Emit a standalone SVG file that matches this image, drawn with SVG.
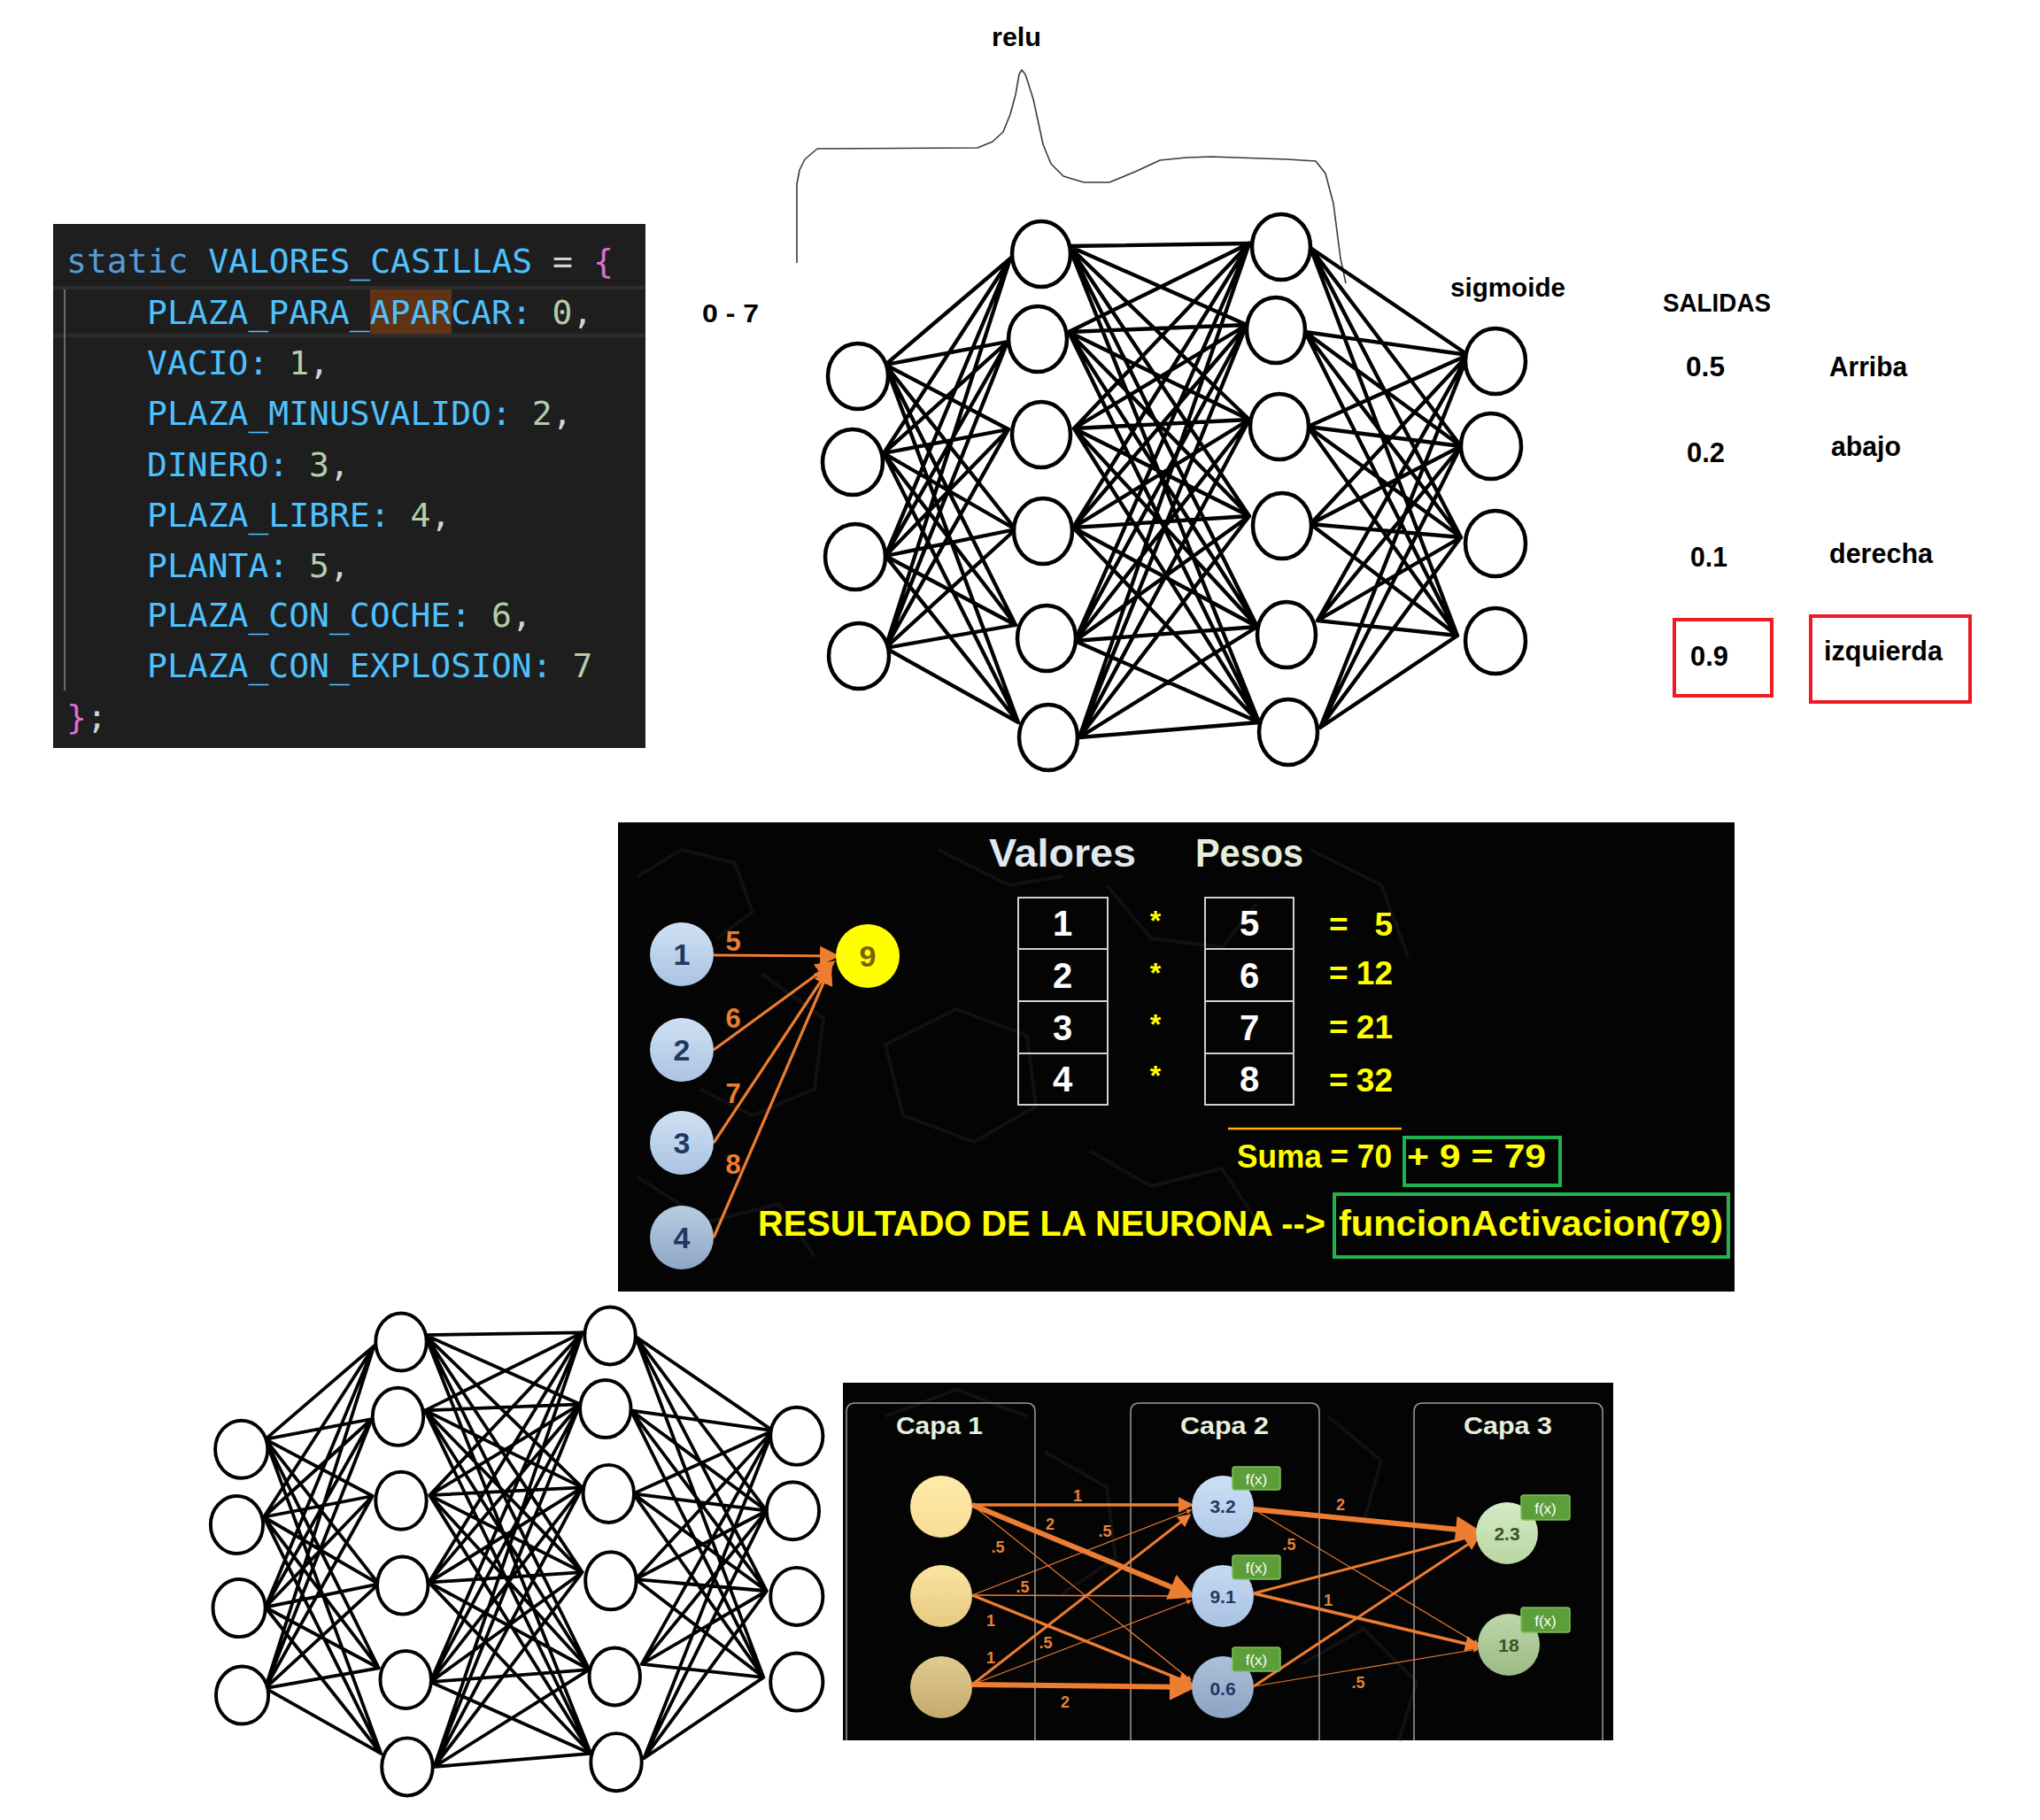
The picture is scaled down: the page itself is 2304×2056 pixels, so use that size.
<svg xmlns="http://www.w3.org/2000/svg" width="2304" height="2056" viewBox="0 0 2304 2056">
<style>
.nn{fill:#fff;stroke:#000;stroke-width:4.5}
.ed{fill:none;stroke:#000;stroke-width:4.3;stroke-linecap:round}
.code{font-family:"DejaVu Sans Mono","Liberation Mono",monospace;font-size:38px}
.b{font-family:"Liberation Sans",Arial,sans-serif;font-weight:bold}
.blk{fill:#000}
.id{fill:#4fc1ff}.pu{fill:#d4d4d4}.nu{fill:#b5cea8}.br{fill:#da70d6}.kw{fill:#569cd6}
.yl{fill:#ffff00}
.ow{fill:#e8823a;font-size:18px;text-anchor:middle}
.fx{fill:#5c9e3a;stroke:#7fc05a;stroke-width:1.5}
.fxt{fill:#fff;font-family:"Liberation Sans",Arial,sans-serif;font-size:17px;text-anchor:middle}
.frame{fill:none;stroke:#9a9a9a;stroke-width:1.5}
.hex{fill:none;stroke:#111;stroke-width:4}
.oa{stroke:#ed7d31;fill:none}
</style>
<defs>
<linearGradient id="gBlue" x1="0" y1="0" x2="0" y2="1"><stop offset="0" stop-color="#cfe0f3"/><stop offset="1" stop-color="#aac4e2"/></linearGradient>
<linearGradient id="gBlue4" x1="0" y1="0" x2="0" y2="1"><stop offset="0" stop-color="#b9cce2"/><stop offset="1" stop-color="#8ea7c6"/></linearGradient>
<linearGradient id="gY1" x1="0" y1="0" x2="0" y2="1"><stop offset="0" stop-color="#ffeaa8"/><stop offset="1" stop-color="#f8dd95"/></linearGradient>
<linearGradient id="gY2" x1="0" y1="0" x2="0" y2="1"><stop offset="0" stop-color="#fbe4a2"/><stop offset="1" stop-color="#e6c981"/></linearGradient>
<linearGradient id="gY3" x1="0" y1="0" x2="0" y2="1"><stop offset="0" stop-color="#e2cb90"/><stop offset="1" stop-color="#c6aa6e"/></linearGradient>
<linearGradient id="gB1" x1="0" y1="0" x2="0" y2="1"><stop offset="0" stop-color="#cde0f4"/><stop offset="1" stop-color="#b0c9e8"/></linearGradient>
<linearGradient id="gB2" x1="0" y1="0" x2="0" y2="1"><stop offset="0" stop-color="#c6daf1"/><stop offset="1" stop-color="#a9c2e3"/></linearGradient>
<linearGradient id="gB3" x1="0" y1="0" x2="0" y2="1"><stop offset="0" stop-color="#acc0d9"/><stop offset="1" stop-color="#8ca4c2"/></linearGradient>
<linearGradient id="gG1" x1="0" y1="0" x2="0" y2="1"><stop offset="0" stop-color="#d6eac6"/><stop offset="1" stop-color="#b8d6a2"/></linearGradient>
<linearGradient id="gG2" x1="0" y1="0" x2="0" y2="1"><stop offset="0" stop-color="#bcd7a8"/><stop offset="1" stop-color="#9bbb84"/></linearGradient>
<marker id="ahm" viewBox="0 0 10 10" refX="8" refY="5" markerWidth="7" markerHeight="7" orient="auto" markerUnits="strokeWidth"><path d="M0 0L10 5L0 10z" fill="#ed7d31"/></marker>
<marker id="ahb" viewBox="0 0 10 10" refX="8" refY="5" markerWidth="6.5" markerHeight="5" orient="auto" markerUnits="strokeWidth"><path d="M0 0L10 5L0 10z" fill="#ed7d31"/></marker>
</defs>
<rect width="2304" height="2056" fill="#fff"/>

<!-- code block -->
<g id="code-block">
<rect x="60" y="253" width="669" height="592" fill="#1e1e1e"/>
<rect x="418" y="325" width="92" height="55" fill="#613315"/>
<line x1="60" y1="325" x2="729" y2="325" stroke="#2c2c2c" stroke-width="4"/>
<line x1="60" y1="379" x2="729" y2="379" stroke="#2c2c2c" stroke-width="4"/>
<line x1="73" y1="327" x2="73" y2="780" stroke="#6a6a6a" stroke-width="2"/>
<text class="code" xml:space="preserve"><tspan x="75" y="308"><tspan class="kw">static</tspan> <tspan class="id">VALORES_CASILLAS</tspan> <tspan class="pu">=</tspan> <tspan class="br">{</tspan></tspan><tspan x="166" y="366"><tspan class="id">PLAZA_PARA_APARCAR:</tspan> <tspan class="nu">0</tspan><tspan class="pu">,</tspan></tspan><tspan x="166" y="423"><tspan class="id">VACIO:</tspan> <tspan class="nu">1</tspan><tspan class="pu">,</tspan></tspan><tspan x="166" y="480"><tspan class="id">PLAZA_MINUSVALIDO:</tspan> <tspan class="nu">2</tspan><tspan class="pu">,</tspan></tspan><tspan x="166" y="538"><tspan class="id">DINERO:</tspan> <tspan class="nu">3</tspan><tspan class="pu">,</tspan></tspan><tspan x="166" y="595"><tspan class="id">PLAZA_LIBRE:</tspan> <tspan class="nu">4</tspan><tspan class="pu">,</tspan></tspan><tspan x="166" y="652"><tspan class="id">PLANTA:</tspan> <tspan class="nu">5</tspan><tspan class="pu">,</tspan></tspan><tspan x="166" y="708"><tspan class="id">PLAZA_CON_COCHE:</tspan> <tspan class="nu">6</tspan><tspan class="pu">,</tspan></tspan><tspan x="166" y="765"><tspan class="id">PLAZA_CON_EXPLOSION:</tspan> <tspan class="nu">7</tspan></tspan><tspan x="75" y="823"><tspan class="br">}</tspan><tspan class="pu">;</tspan></tspan></text>
</g>

<!-- top annotations -->
<g id="annotations">
<path d="M900 297L900 208L903 192L909 180L923 168L1104 167L1121 160L1133 149L1141 129L1147 107L1151 84L1154 79L1158 84L1161 93L1167 112L1172 135L1178 163L1187 185L1201 199L1224 206L1253 206L1282 194L1310 181L1340 178L1368 177L1454 180L1486 182L1497 196L1506 230L1511 269L1514 292L1520 320" fill="none" stroke="#3a3a3a" stroke-width="1.6" stroke-linejoin="round"/>
<text class="b blk" x="1120" y="52" font-size="30" textLength="56" lengthAdjust="spacingAndGlyphs">relu</text>
<text class="b blk" x="1638" y="335" font-size="30" textLength="130" lengthAdjust="spacingAndGlyphs">sigmoide</text>
<text class="b blk" x="793" y="364" font-size="30" textLength="64" lengthAdjust="spacingAndGlyphs">0 - 7</text>
<text class="b blk" x="1878" y="352" font-size="30" textLength="122" lengthAdjust="spacingAndGlyphs">SALIDAS</text>
<text class="b blk" x="1904" y="425" font-size="31" textLength="44" lengthAdjust="spacingAndGlyphs">0.5</text>
<text class="b blk" x="2066" y="425" font-size="31" textLength="88" lengthAdjust="spacingAndGlyphs">Arriba</text>
<text class="b blk" x="1905" y="522" font-size="31" textLength="43" lengthAdjust="spacingAndGlyphs">0.2</text>
<text class="b blk" x="2068" y="515" font-size="31" textLength="79" lengthAdjust="spacingAndGlyphs">abajo</text>
<text class="b blk" x="1909" y="640" font-size="31" textLength="42" lengthAdjust="spacingAndGlyphs">0.1</text>
<text class="b blk" x="2066" y="636" font-size="31" textLength="117" lengthAdjust="spacingAndGlyphs">derecha</text>
<text class="b blk" x="1909" y="752" font-size="31" textLength="43" lengthAdjust="spacingAndGlyphs">0.9</text>
<text class="b blk" x="2060" y="746" font-size="31" textLength="134" lengthAdjust="spacingAndGlyphs">izquierda</text>
<rect x="1891" y="700" width="110" height="86" fill="none" stroke="#ed1c24" stroke-width="4"/>
<rect x="2045" y="696" width="180" height="97" fill="none" stroke="#ed1c24" stroke-width="4"/>
</g>

<!-- top network -->
<g id="net1">
<g id="net1-connectors" class="ed">
<path d="M1000 412L1141 292M1000 412L1138 386M1000 412L1139 485M1000 412L1147 598M1000 412L1147 706M1000 412L1150 816M998 512L1141 292M998 512L1138 386M998 512L1139 485M998 512L1147 598M998 512L1147 706M998 512L1150 816M1000 628L1141 292M1000 628L1138 386M1000 628L1139 485M1000 628L1147 598M1000 628L1147 706M1000 628L1150 816M1000 732L1141 292M1000 732L1138 386M1000 732L1139 485M1000 732L1147 598M1000 732L1147 706M1000 732L1150 816"/>
<path d="M1207 278L1411 275M1207 278L1408 367M1207 278L1411 474M1207 278L1411 583M1207 278L1420 708M1207 278L1422 816M1207 375L1411 275M1207 375L1408 367M1207 375L1411 474M1207 375L1411 583M1207 375L1420 708M1207 375L1422 816M1213 484L1411 275M1213 484L1408 367M1213 484L1411 474M1213 484L1411 583M1213 484L1420 708M1213 484L1422 816M1212 596L1411 275M1212 596L1408 367M1212 596L1411 474M1212 596L1411 583M1212 596L1420 708M1212 596L1422 816M1214 724L1411 275M1214 724L1408 367M1214 724L1411 474M1214 724L1411 583M1214 724L1420 708M1214 724L1422 816M1219 833L1411 275M1219 833L1408 367M1219 833L1411 474M1219 833L1411 583M1219 833L1420 708M1219 833L1422 816"/>
<path d="M1480 280L1658 401M1480 280L1650 504M1480 280L1650 607M1480 280L1646 718M1474 375L1658 401M1474 375L1650 504M1474 375L1650 607M1474 375L1646 718M1477 482L1658 401M1477 482L1650 504M1477 482L1650 607M1477 482L1646 718M1480 592L1658 401M1480 592L1650 504M1480 592L1650 607M1480 592L1646 718M1488 701L1658 401M1488 701L1650 504M1488 701L1650 607M1488 701L1646 718M1491 822L1658 401M1491 822L1650 504M1491 822L1650 607M1491 822L1646 718"/>
</g>
<g id="n1-a1"><ellipse class="nn" cx="969" cy="425" rx="34" ry="37"/></g>
<g id="n1-a2"><ellipse class="nn" cx="963" cy="522" rx="34" ry="37"/></g>
<g id="n1-a3"><ellipse class="nn" cx="966" cy="629" rx="34" ry="37"/></g>
<g id="n1-a4"><ellipse class="nn" cx="970" cy="741" rx="34" ry="37"/></g>
<g id="n1-b1"><ellipse class="nn" cx="1176" cy="287" rx="33" ry="37"/></g>
<g id="n1-b2"><ellipse class="nn" cx="1172" cy="383" rx="33" ry="37"/></g>
<g id="n1-b3"><ellipse class="nn" cx="1176" cy="491" rx="33" ry="37"/></g>
<g id="n1-b4"><ellipse class="nn" cx="1178" cy="600" rx="33" ry="37"/></g>
<g id="n1-b5"><ellipse class="nn" cx="1182" cy="721" rx="33" ry="37"/></g>
<g id="n1-b6"><ellipse class="nn" cx="1184" cy="833" rx="33" ry="37"/></g>
<g id="n1-c1"><ellipse class="nn" cx="1447" cy="279" rx="33" ry="37"/></g>
<g id="n1-c2"><ellipse class="nn" cx="1441" cy="373" rx="33" ry="37"/></g>
<g id="n1-c3"><ellipse class="nn" cx="1445" cy="482" rx="33" ry="37"/></g>
<g id="n1-c4"><ellipse class="nn" cx="1448" cy="594" rx="33" ry="37"/></g>
<g id="n1-c5"><ellipse class="nn" cx="1453" cy="717" rx="33" ry="37"/></g>
<g id="n1-c6"><ellipse class="nn" cx="1455" cy="827" rx="33" ry="37"/></g>
<g id="n1-d1"><ellipse class="nn" cx="1689" cy="408" rx="34" ry="37"/></g>
<g id="n1-d2"><ellipse class="nn" cx="1684" cy="504" rx="34" ry="37"/></g>
<g id="n1-d3"><ellipse class="nn" cx="1689" cy="614" rx="34" ry="37"/></g>
<g id="n1-d4"><ellipse class="nn" cx="1689" cy="724" rx="34" ry="37"/></g>
</g>

<!-- middle panel -->
<g id="neuron-panel">
<rect x="698" y="929" width="1261" height="530" fill="#040404"/>
<g class="hex">
<path d="M720 990L770 960L830 975L850 1030L810 1060"/>
<path d="M860 1100L930 1150L920 1230L850 1260L790 1230"/>
<path d="M1000 1180L1080 1140L1160 1170L1170 1250L1100 1290L1020 1260Z"/>
<path d="M1060 960L1140 1000L1200 990"/>
<path d="M1250 1000L1300 1060L1380 1070L1420 1020"/>
<path d="M720 1330L800 1380L880 1360L920 1420"/>
<path d="M1230 1300L1300 1340L1380 1320L1420 1380"/>
<path d="M1480 960L1560 1000L1590 1080"/>
</g>
<g id="neuron-connectors">
<line class="oa" x1="806" y1="1079" x2="944" y2="1080" stroke-width="3.2" marker-end="url(#ahm)"/>
<line class="oa" x1="806" y1="1186" x2="940" y2="1088" stroke-width="3.2" marker-end="url(#ahm)"/>
<line class="oa" x1="806" y1="1291" x2="938" y2="1092" stroke-width="3.2" marker-end="url(#ahm)"/>
<line class="oa" x1="806" y1="1398" x2="937" y2="1094" stroke-width="3.2" marker-end="url(#ahm)"/>
</g>
<g class="b" font-size="31" fill="#ed7d31" text-anchor="middle">
<text x="828" y="1074">5</text><text x="828" y="1161">6</text><text x="828" y="1246">7</text><text x="828" y="1326">8</text>
</g>
<g id="in1"><circle cx="770" cy="1078" r="36" fill="url(#gBlue)"/><text class="b" x="770" y="1090" font-size="34" fill="#1f3864" text-anchor="middle">1</text></g>
<g id="in2"><circle cx="770" cy="1186" r="36" fill="url(#gBlue)"/><text class="b" x="770" y="1198" font-size="34" fill="#1f3864" text-anchor="middle">2</text></g>
<g id="in3"><circle cx="770" cy="1291" r="36" fill="url(#gBlue)"/><text class="b" x="770" y="1303" font-size="34" fill="#1f3864" text-anchor="middle">3</text></g>
<g id="in4"><circle cx="770" cy="1398" r="36" fill="url(#gBlue4)"/><text class="b" x="770" y="1410" font-size="34" fill="#1f3864" text-anchor="middle">4</text></g>
<g id="out9"><circle cx="980" cy="1080" r="36" fill="#ffff00"/><text class="b" x="980" y="1092" font-size="34" fill="#7f6000" text-anchor="middle">9</text></g>
<text class="b" x="1117" y="979" font-size="44" fill="#dfe7ef" textLength="166" lengthAdjust="spacingAndGlyphs">Valores</text>
<text class="b" x="1350" y="979" font-size="44" fill="#e4eedb" textLength="122" lengthAdjust="spacingAndGlyphs">Pesos</text>
<g id="tbl-valores" fill="none" stroke="#d0d0d0" stroke-width="2">
<rect x="1150" y="1014" width="101" height="234"/><path d="M1150 1072H1251M1150 1131H1251M1150 1190H1251"/>
</g>
<g id="tbl-pesos" fill="none" stroke="#d0d0d0" stroke-width="2">
<rect x="1361" y="1014" width="100" height="234"/><path d="M1361 1072H1461M1361 1131H1461M1361 1190H1461"/>
</g>
<g class="b" font-size="40" fill="#fff" text-anchor="middle">
<text x="1200" y="1057">1</text><text x="1200" y="1116">2</text><text x="1200" y="1175">3</text><text x="1200" y="1233">4</text>
<text x="1411" y="1057">5</text><text x="1411" y="1116">6</text><text x="1411" y="1175">7</text><text x="1411" y="1233">8</text>
</g>
<g class="b yl" font-size="32" text-anchor="middle">
<text x="1305" y="1051">*</text><text x="1305" y="1110">*</text><text x="1305" y="1168">*</text><text x="1305" y="1226">*</text>
</g>
<g class="b yl" font-size="37">
<text x="1501" y="1057">=</text><text x="1573" y="1057" text-anchor="end">5</text>
<text x="1501" y="1112">=</text><text x="1573" y="1112" text-anchor="end">12</text>
<text x="1501" y="1173">=</text><text x="1573" y="1173" text-anchor="end">21</text>
<text x="1501" y="1233">=</text><text x="1573" y="1233" text-anchor="end">32</text>
</g>
<line x1="1387" y1="1275" x2="1583" y2="1275" stroke="#ffb400" stroke-width="2.5"/>
<text class="b yl" x="1397" y="1319" font-size="37" textLength="175" lengthAdjust="spacingAndGlyphs">Suma = 70</text>
<text class="b yl" x="1589" y="1319" font-size="37" textLength="157" lengthAdjust="spacingAndGlyphs">+ 9 = 79</text>
<rect x="1586" y="1285" width="176" height="54" fill="none" stroke="#22b14c" stroke-width="4"/>
<text class="b yl" x="856" y="1396" font-size="40" textLength="641" lengthAdjust="spacingAndGlyphs">RESULTADO DE LA NEURONA --&gt;</text>
<text class="b yl" x="1512" y="1396" font-size="40" textLength="434" lengthAdjust="spacingAndGlyphs">funcionActivacion(79)</text>
<rect x="1507" y="1349" width="445" height="71" fill="none" stroke="#22b14c" stroke-width="4"/>
</g>

<!-- bottom-left network -->
<g id="net2" transform="matrix(0.871 0 0 0.879 -571.3 1263.7)">
<g id="net2-connectors" class="ed">
<path d="M1000 412L1141 292M1000 412L1138 386M1000 412L1139 485M1000 412L1147 598M1000 412L1147 706M1000 412L1150 816M998 512L1141 292M998 512L1138 386M998 512L1139 485M998 512L1147 598M998 512L1147 706M998 512L1150 816M1000 628L1141 292M1000 628L1138 386M1000 628L1139 485M1000 628L1147 598M1000 628L1147 706M1000 628L1150 816M1000 732L1141 292M1000 732L1138 386M1000 732L1139 485M1000 732L1147 598M1000 732L1147 706M1000 732L1150 816"/>
<path d="M1207 278L1411 275M1207 278L1408 367M1207 278L1411 474M1207 278L1411 583M1207 278L1420 708M1207 278L1422 816M1207 375L1411 275M1207 375L1408 367M1207 375L1411 474M1207 375L1411 583M1207 375L1420 708M1207 375L1422 816M1213 484L1411 275M1213 484L1408 367M1213 484L1411 474M1213 484L1411 583M1213 484L1420 708M1213 484L1422 816M1212 596L1411 275M1212 596L1408 367M1212 596L1411 474M1212 596L1411 583M1212 596L1420 708M1212 596L1422 816M1214 724L1411 275M1214 724L1408 367M1214 724L1411 474M1214 724L1411 583M1214 724L1420 708M1214 724L1422 816M1219 833L1411 275M1219 833L1408 367M1219 833L1411 474M1219 833L1411 583M1219 833L1420 708M1219 833L1422 816"/>
<path d="M1480 280L1658 401M1480 280L1650 504M1480 280L1650 607M1480 280L1646 718M1474 375L1658 401M1474 375L1650 504M1474 375L1650 607M1474 375L1646 718M1477 482L1658 401M1477 482L1650 504M1477 482L1650 607M1477 482L1646 718M1480 592L1658 401M1480 592L1650 504M1480 592L1650 607M1480 592L1646 718M1488 701L1658 401M1488 701L1650 504M1488 701L1650 607M1488 701L1646 718M1491 822L1658 401M1491 822L1650 504M1491 822L1650 607M1491 822L1646 718"/>
</g>
<g id="n2-a1"><ellipse class="nn" cx="969" cy="425" rx="34" ry="37"/></g>
<g id="n2-a2"><ellipse class="nn" cx="963" cy="522" rx="34" ry="37"/></g>
<g id="n2-a3"><ellipse class="nn" cx="966" cy="629" rx="34" ry="37"/></g>
<g id="n2-a4"><ellipse class="nn" cx="970" cy="741" rx="34" ry="37"/></g>
<g id="n2-b1"><ellipse class="nn" cx="1176" cy="287" rx="33" ry="37"/></g>
<g id="n2-b2"><ellipse class="nn" cx="1172" cy="383" rx="33" ry="37"/></g>
<g id="n2-b3"><ellipse class="nn" cx="1176" cy="491" rx="33" ry="37"/></g>
<g id="n2-b4"><ellipse class="nn" cx="1178" cy="600" rx="33" ry="37"/></g>
<g id="n2-b5"><ellipse class="nn" cx="1182" cy="721" rx="33" ry="37"/></g>
<g id="n2-b6"><ellipse class="nn" cx="1184" cy="833" rx="33" ry="37"/></g>
<g id="n2-c1"><ellipse class="nn" cx="1447" cy="279" rx="33" ry="37"/></g>
<g id="n2-c2"><ellipse class="nn" cx="1441" cy="373" rx="33" ry="37"/></g>
<g id="n2-c3"><ellipse class="nn" cx="1445" cy="482" rx="33" ry="37"/></g>
<g id="n2-c4"><ellipse class="nn" cx="1448" cy="594" rx="33" ry="37"/></g>
<g id="n2-c5"><ellipse class="nn" cx="1453" cy="717" rx="33" ry="37"/></g>
<g id="n2-c6"><ellipse class="nn" cx="1455" cy="827" rx="33" ry="37"/></g>
<g id="n2-d1"><ellipse class="nn" cx="1689" cy="408" rx="34" ry="37"/></g>
<g id="n2-d2"><ellipse class="nn" cx="1684" cy="504" rx="34" ry="37"/></g>
<g id="n2-d3"><ellipse class="nn" cx="1689" cy="614" rx="34" ry="37"/></g>
<g id="n2-d4"><ellipse class="nn" cx="1689" cy="724" rx="34" ry="37"/></g>
</g>

<!-- bottom-right panel -->
<g id="layers-panel">
<rect x="952" y="1562" width="870" height="404" fill="#040404"/>
<g class="hex">
<path d="M1000 1600L1080 1570L1160 1600"/>
<path d="M1180 1640L1250 1680L1260 1760L1200 1800"/>
<path d="M1500 1600L1560 1650L1540 1720"/>
<path d="M1470 1880L1540 1840L1600 1900L1580 1966"/>
</g>
<path class="frame" d="M956 1966V1595Q956 1585 966 1585H1159Q1169 1585 1169 1595V1966"/>
<path class="frame" d="M1277 1966V1595Q1277 1585 1287 1585H1480Q1490 1585 1490 1595V1966"/>
<path class="frame" d="M1597 1966V1595Q1597 1585 1607 1585H1800Q1810 1585 1810 1595V1966"/>
<g class="b" font-size="28" fill="#e6f0dc" text-anchor="middle">
<text x="1061" y="1620" textLength="98" lengthAdjust="spacingAndGlyphs">Capa 1</text>
<text x="1383" y="1620" textLength="100" lengthAdjust="spacingAndGlyphs">Capa 2</text>
<text x="1703" y="1620" textLength="100" lengthAdjust="spacingAndGlyphs">Capa 3</text>
</g>
<g id="layers-connectors">
<line class="oa" x1="1098" y1="1700" x2="1345" y2="1700" stroke-width="3.5" marker-end="url(#ahb)"/>
<line class="oa" x1="1098" y1="1700" x2="1345" y2="1802" stroke-width="6" marker-end="url(#ahb)"/>
<line class="oa" x1="1098" y1="1700" x2="1345" y2="1898" stroke-width="1.2" marker-end="url(#ahb)"/>
<line class="oa" x1="1098" y1="1802" x2="1345" y2="1706" stroke-width="1.2" marker-end="url(#ahb)"/>
<line class="oa" x1="1098" y1="1802" x2="1345" y2="1803" stroke-width="1.5" marker-end="url(#ahb)"/>
<line class="oa" x1="1098" y1="1802" x2="1345" y2="1902" stroke-width="3.5" marker-end="url(#ahb)"/>
<line class="oa" x1="1098" y1="1903" x2="1343" y2="1712" stroke-width="3" marker-end="url(#ahb)"/>
<line class="oa" x1="1098" y1="1903" x2="1345" y2="1808" stroke-width="1.2" marker-end="url(#ahb)"/>
<line class="oa" x1="1098" y1="1903" x2="1345" y2="1906" stroke-width="6" marker-end="url(#ahb)"/>
<line class="oa" x1="1416" y1="1705" x2="1668" y2="1730" stroke-width="6" marker-end="url(#ahb)"/>
<line class="oa" x1="1416" y1="1705" x2="1669" y2="1857" stroke-width="1.2" marker-end="url(#ahb)"/>
<line class="oa" x1="1416" y1="1800" x2="1668" y2="1734" stroke-width="3" marker-end="url(#ahb)"/>
<line class="oa" x1="1416" y1="1800" x2="1669" y2="1860" stroke-width="3.5" marker-end="url(#ahb)"/>
<line class="oa" x1="1416" y1="1905" x2="1668" y2="1738" stroke-width="3" marker-end="url(#ahb)"/>
<line class="oa" x1="1416" y1="1905" x2="1669" y2="1863" stroke-width="1.2" marker-end="url(#ahb)"/>
</g>
<g class="b ow">
<text x="1217" y="1696">1</text>
<text x="1186" y="1728">2</text>
<text x="1127" y="1754">.5</text>
<text x="1248" y="1736">.5</text>
<text x="1155" y="1799">.5</text>
<text x="1119" y="1837">1</text>
<text x="1119" y="1879">1</text>
<text x="1181" y="1862">.5</text>
<text x="1203" y="1929">2</text>
<text x="1514" y="1706">2</text>
<text x="1456" y="1751">.5</text>
<text x="1500" y="1814">1</text>
<text x="1534" y="1907">.5</text>
</g>
<g id="l1-n1"><circle cx="1063" cy="1702" r="35" fill="url(#gY1)"/></g>
<g id="l1-n2"><circle cx="1063" cy="1803" r="35" fill="url(#gY2)"/></g>
<g id="l1-n3"><circle cx="1063" cy="1906" r="35" fill="url(#gY3)"/></g>
<g id="l2-n1"><circle cx="1381" cy="1702" r="35" fill="url(#gB1)"/><text class="b" x="1381" y="1709" font-size="21" fill="#1f3864" text-anchor="middle">3.2</text><rect class="fx" x="1392" y="1657" width="54" height="26" rx="3"/><text class="fxt" x="1419" y="1677">f(x)</text></g>
<g id="l2-n2"><circle cx="1381" cy="1803" r="35" fill="url(#gB2)"/><text class="b" x="1381" y="1811" font-size="21" fill="#1f3864" text-anchor="middle">9.1</text><rect class="fx" x="1392" y="1757" width="54" height="27" rx="3"/><text class="fxt" x="1419" y="1777">f(x)</text></g>
<g id="l2-n3"><circle cx="1381" cy="1906" r="35" fill="url(#gB3)"/><text class="b" x="1381" y="1915" font-size="21" fill="#1f3864" text-anchor="middle">0.6</text><rect class="fx" x="1392" y="1861" width="54" height="27" rx="3"/><text class="fxt" x="1419" y="1881">f(x)</text></g>
<g id="l3-n1"><circle cx="1702" cy="1732" r="35" fill="url(#gG1)"/><text class="b" x="1702" y="1740" font-size="21" fill="#375623" text-anchor="middle">2.3</text><rect class="fx" x="1718" y="1689" width="55" height="28" rx="3"/><text class="fxt" x="1745.5" y="1710">f(x)</text></g>
<g id="l3-n2"><circle cx="1704" cy="1858" r="35" fill="url(#gG2)"/><text class="b" x="1704" y="1866" font-size="21" fill="#375623" text-anchor="middle">18</text><rect class="fx" x="1718" y="1816" width="55" height="28" rx="3"/><text class="fxt" x="1745.5" y="1837">f(x)</text></g>
</g>
</svg>
